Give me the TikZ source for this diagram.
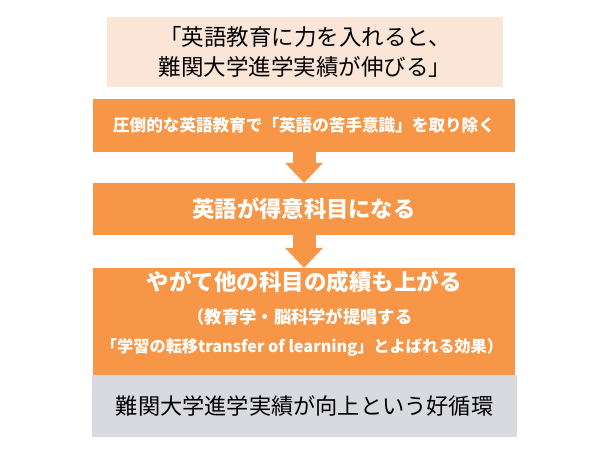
\documentclass[tikz,border=0pt]{standalone}
\usepackage{fontspec}
\setmainfont{Noto Sans CJK JP}
\usetikzlibrary{arrows.meta}
\definecolor{peach}{HTML}{FBE5D6}
\definecolor{orng}{HTML}{F79646}
\definecolor{graybox}{HTML}{D9D9E0}
\begin{document}
\begin{tikzpicture}[x=1pt,y=-1pt,
  box/.style={rectangle, inner sep=0pt, anchor=center},
  obox/.style={box, fill=orng, text=white, font=\bfseries, minimum width=422pt},
  wtext/.style={text=white, inner sep=0pt, anchor=center},
  flow/.style={orng, line width=23pt, -{Triangle[width=38pt,length=20pt,line width=0pt]}}]
\useasboundingbox[fill=white] (0,0) rectangle (600,450);
\node[box, fill=peach, minimum width=396pt, minimum height=70pt, align=center,
  font=\fontsize{22.5}{30}\selectfont] (top) at (305,52)
  {「英語教育に力を入れると、\\難関大学進学実績が伸びる」};
\node[obox, minimum height=53pt, font=\bfseries\fontsize{16.6}{20}\selectfont] (b2) at (304,125.5)
  {圧倒的な英語教育で「英語の苦手意識」を取り除く};
\node[obox, minimum height=52pt, font=\bfseries\fontsize{22.3}{26}\selectfont] (b3) at (304,209)
  {英語が得意科目になる};
\node[obox, minimum height=107pt] (b4) at (304,321.5) {};
\node[box, fill=graybox, minimum width=425pt, minimum height=62pt,
  font=\fontsize{22.2}{26}\selectfont] (b5) at (304.5,406)
  {難関大学進学実績が向上という好循環};
\node[wtext, font=\bfseries\fontsize{22.5}{26}\selectfont] (t4a) at (304,282)
  {やがて他の科目の成績も上がる};
\node[wtext, font=\bfseries\fontsize{17.3}{20}\selectfont] (t4b) at (300,317)
  {（教育学・脳科学が提唱する};
\node[wtext, font=\bfseries\fontsize{16.2}{20}\selectfont] (t4c) at (302,347)
  {「学習の転移transfer of learning」とよばれる効果）};
\draw[flow] (b2.south) -- (b3.north);
\draw[flow] (b3.south) -- (b4.north);
\end{tikzpicture}
\end{document}
